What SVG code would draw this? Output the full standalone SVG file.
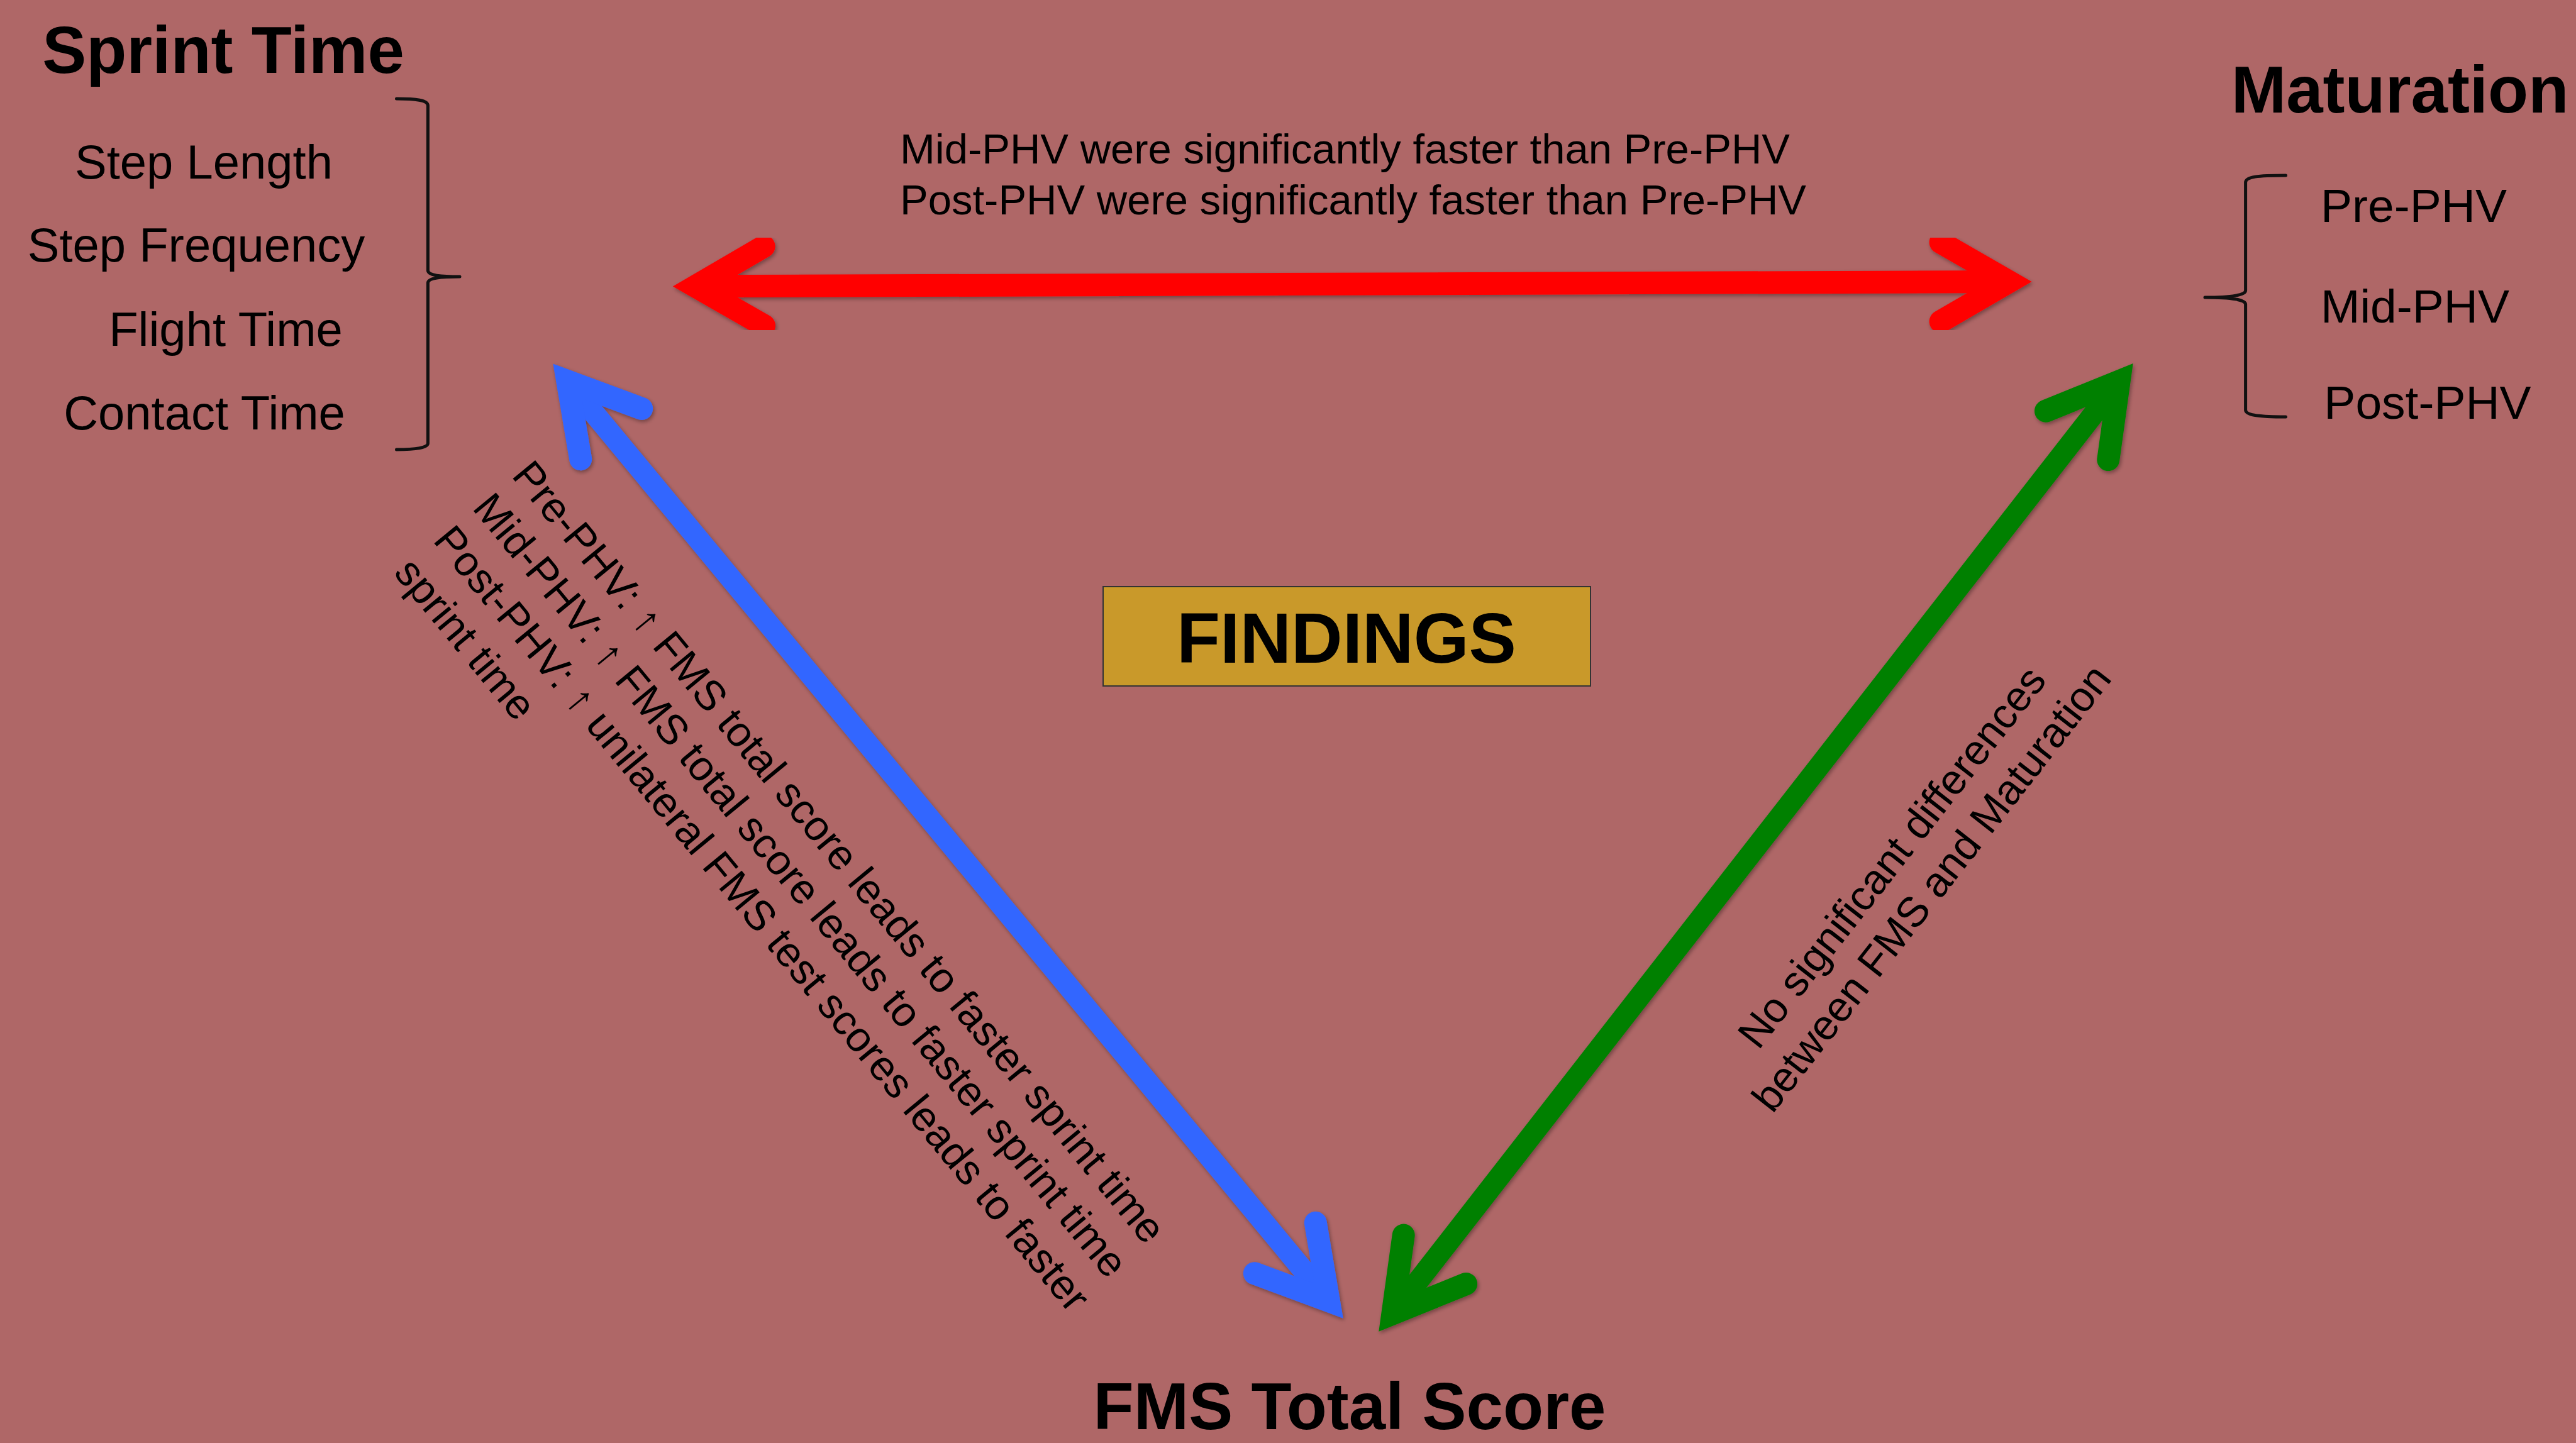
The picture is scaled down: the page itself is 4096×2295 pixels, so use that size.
<svg xmlns="http://www.w3.org/2000/svg" width="4096" height="2295" viewBox="0 0 4096 2295">
<defs>
<style>
text{font-family:"Liberation Sans",Arial,Helvetica,sans-serif;fill:#000}
.title{font-size:105px;font-weight:bold;text-anchor:middle}
.item{font-size:76px;text-anchor:middle}
.phase{font-size:75px;text-anchor:middle}
.note{font-size:67px}
.brace{fill:none;stroke:#111;stroke-width:5;stroke-linecap:round;stroke-linejoin:round}
.shaft{fill:none;stroke-linecap:butt}
.head{fill:none;stroke-width:36;stroke-linejoin:miter;stroke-miterlimit:4;stroke-linecap:round}
.red{stroke:#FF0000}
.blue{stroke:#3366FF}
.green{stroke:#008000}
</style>
<filter id="shadow" x="-5%" y="-5%" width="110%" height="110%">
<feDropShadow dx="2" dy="3" stdDeviation="3" flood-color="#000" flood-opacity="0.35"/>
</filter>
</defs>
<rect x="0" y="0" width="4096" height="2295" fill="#AF6767"/>

<g id="connectors">
<g id="arrow-red" filter="url(#shadow)">
<line class="shaft red" x1="1105.8" y1="455.3" x2="3194.6" y2="448" stroke-width="36"/>
<polyline class="head red" points="1215,517.9 1105.8,455.3 1214.6,391.9"/>
<polyline class="head red" points="3085.6,511.4 3194.6,448 3085.6,385.4"/>
</g>
<g id="arrow-blue" filter="url(#shadow)">
<line class="shaft blue" x1="902.3" y1="606.1" x2="2112.8" y2="2069" stroke-width="34"/>
<polyline class="head blue" points="923.2,730.3 902.3,606.1 1020.2,649.9"/>
<polyline class="head blue" points="1994.8,2025.2 2112.8,2069 2091.8,1944.8"/>
</g>
<g id="arrow-green" filter="url(#shadow)">
<line class="shaft green" x1="3369.6" y1="606.4" x2="2214.4" y2="2089.3" stroke-width="34"/>
<polyline class="head green" points="3352.3,731.1 3369.6,606.4 3252.9,653.7"/>
<polyline class="head green" points="2331.1,2042 2214.4,2089.3 2231.7,1964.6"/>
</g>
<text id="label-red" class="note"><tspan x="1431" y="260">Mid-PHV were significantly faster than Pre-PHV</tspan><tspan x="1431" y="341">Post-PHV were significantly faster than Pre-PHV</tspan></text>
<text id="label-blue" class="note" transform="translate(812,757) rotate(50.5)"><tspan x="0" y="0">Pre-PHV: ↑ FMS total score leads to faster sprint time</tspan><tspan x="0" y="81">Mid-PHV: ↑ FMS total score leads to faster sprint time</tspan><tspan x="0" y="162">Post-PHV: ↑ unilateral FMS test scores leads to faster</tspan><tspan x="0" y="243">sprint time</tspan></text>
<text id="label-green" class="note" text-anchor="middle" transform="translate(3026,1377) rotate(-52)"><tspan x="0" y="0">No significant differences</tspan><tspan x="0" y="80">between FMS and Maturation</tspan></text>
</g>

<g id="node-sprint">
<text class="title" x="355" y="116">Sprint Time</text>
<text class="item" x="324" y="284">Step Length</text>
<text class="item" x="312" y="416">Step Frequency</text>
<text class="item" x="359" y="550">Flight Time</text>
<text class="item" x="325" y="683">Contact Time</text>
<path class="brace" d="M630.5,157 C662,157 680.4,159 680.4,168 L680.4,430 C680.4,437 695,440 731,440 C695,440 680.4,443 680.4,450 L680.4,705 C680.4,712 662,715 630.5,715"/>
</g>

<g id="node-maturation">
<text class="title" x="3816" y="179">Maturation</text>
<text class="phase" x="3838" y="353">Pre-PHV</text>
<text class="phase" x="3840" y="513">Mid-PHV</text>
<text class="phase" x="3860" y="666">Post-PHV</text>
<path class="brace" d="M3634.5,279 C3590,279 3570.6,281 3570.6,290 L3570.6,462 C3570.6,469 3550,473 3506,473 C3550,473 3570.6,477 3570.6,484 L3570.6,652 C3570.6,660 3590,663 3634.5,663"/>
</g>

<g id="node-findings">
<rect x="1754" y="933" width="775" height="158" fill="#C9992A" stroke="#333" stroke-width="2"/>
<text x="2141" y="1054" font-size="113" font-weight="bold" text-anchor="middle">FINDINGS</text>
</g>

<g id="node-fms">
<text class="title" x="2146" y="2273">FMS Total Score</text>
</g>
</svg>
